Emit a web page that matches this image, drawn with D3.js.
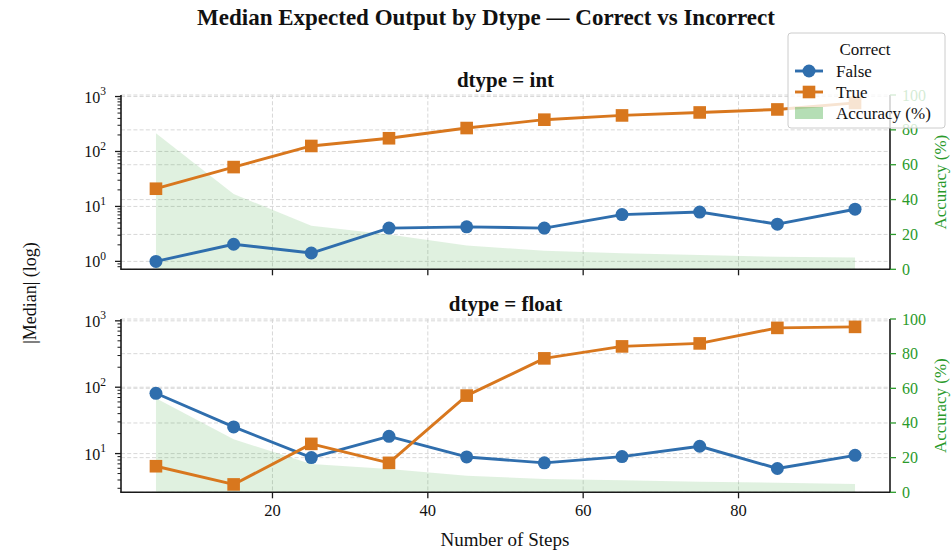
<!DOCTYPE html>
<html><head><meta charset="utf-8">
<script src="https://cdn.jsdelivr.net/npm/d3@7"></script>
<style>body{margin:0;background:#fff} text{font-family:"Liberation Serif","Times New Roman",serif}</style>
</head><body><svg id="c" width="952" height="553"></svg>
<script>
const steps = [5,15,25,35,45,55,65,75,85,95];
const intFalse = [1.0,2.05,1.42,4.03,4.25,4.03,7.1,7.9,4.75,8.9];
const intTrue = [21,52,126,174,267,379,453,513,582,765];
const intAcc = [78,43.2,25,20,13.6,10.7,9.2,8.2,7.2,6.7];
const floatFalse = [81,25.2,8.7,18.2,8.9,7.25,9.0,12.9,5.96,9.4];
const floatTrue = [6.45,3.43,14.0,7.25,74.8,272,412,457,783,811];
const floatAcc = [54.2,30.6,16.3,13.4,9.6,7.7,6.9,6.1,5.5,4.8];
const xTicks = [20,40,60,80];
const accTicks = [0,20,40,60,80,100];
const panels = [
  {title:"dtype = int", f:intFalse, t:intTrue, acc:intAcc, top:95, bottom:269.3, labels:false},
  {title:"dtype = float", f:floatFalse, t:floatTrue, acc:floatAcc, top:319, bottom:492.3, labels:true}
];
const BLUE="#2f6ead", ORANGE="#d8771e", GREEN="#2a9a2a", FILL="rgba(44,160,44,0.15)";
const L=121, R=890;
const svg=d3.select("#c");
const x=d3.scaleLinear().domain([0.5,99.5]).range([L,R]);

svg.append("text").attr("x",486).attr("y",25).attr("text-anchor","middle")
  .attr("font-size",23).attr("font-weight","bold").attr("fill","#111")
  .text("Median Expected Output by Dtype — Correct vs Incorrect");

panels.forEach(p=>{
  const vals=p.f.concat(p.t).map(Math.log10);
  const lo=d3.min(vals), hi=d3.max(vals), m=0.05*(hi-lo);
  const y=d3.scaleLog().domain([Math.pow(10,lo-m),Math.pow(10,hi+m)]).range([p.bottom,p.top]);
  const ya=d3.scaleLinear().domain([0,100]).range([p.bottom,p.top]);
  const g=svg.append("g");
  const grid=g.append("g").attr("stroke","#d4d4d4").attr("stroke-width",0.9).attr("stroke-dasharray","4,2.2");
  const allT=y.ticks();
  const majors=allT.filter(v=>Math.abs(Math.log10(v)-Math.round(Math.log10(v)))<1e-9);
  const minors=allT.filter(v=>!majors.includes(v));
  majors.forEach(v=>grid.append("line").attr("x1",L).attr("x2",R).attr("y1",y(v)).attr("y2",y(v)));
  accTicks.forEach(v=>grid.append("line").attr("x1",L).attr("x2",R).attr("y1",ya(v)).attr("y2",ya(v)));
  xTicks.forEach(v=>grid.append("line").attr("x1",x(v)).attr("x2",x(v)).attr("y1",p.top).attr("y2",p.bottom));
  g.append("path").datum(steps.map((s,i)=>[s,p.acc[i]]))
    .attr("fill",FILL).attr("stroke","none")
    .attr("d",d3.area().x(d=>x(d[0])).y0(ya(0)).y1(d=>ya(d[1])));
  [[p.f,BLUE,"circle"],[p.t,ORANGE,"square"]].forEach(([arr,col,shape])=>{
    const pts=steps.map((s,i)=>[s,arr[i]]);
    g.append("path").datum(pts).attr("fill","none").attr("stroke",col).attr("stroke-width",2.9)
      .attr("stroke-linejoin","round").attr("d",d3.line().x(d=>x(d[0])).y(d=>y(d[1])));
    pts.forEach(d=>{
      if(shape==="circle") g.append("circle").attr("cx",x(d[0])).attr("cy",y(d[1])).attr("r",6.5).attr("fill",col);
      else g.append("rect").attr("x",x(d[0])-6.3).attr("y",y(d[1])-6.3).attr("width",12.6).attr("height",12.6).attr("fill",col);
    });
  });
  const ax=g.append("g").attr("stroke","#1a1a1a");
  ax.append("line").attr("x1",L).attr("x2",L).attr("y1",p.top).attr("y2",p.bottom).attr("stroke-width",1.6);
  ax.append("line").attr("x1",L-0.8).attr("x2",R+0.8).attr("y1",p.bottom).attr("y2",p.bottom).attr("stroke-width",1.6);
  ax.append("line").attr("x1",R).attr("x2",R).attr("y1",p.top).attr("y2",p.bottom).attr("stroke-width",1.6);
  majors.forEach(v=>{
    ax.append("line").attr("x1",L-6).attr("x2",L).attr("y1",y(v)).attr("y2",y(v)).attr("stroke-width",1.3);
    const t=g.append("text").attr("x",106).attr("y",y(v)+6).attr("text-anchor","end").attr("font-size",16).attr("fill","#111");
    t.append("tspan").text("10");
    t.append("tspan").attr("dy",-7.5).attr("font-size",11.5).text(Math.round(Math.log10(v)));
  });
  minors.forEach(v=>ax.append("line").attr("x1",L-3.5).attr("x2",L).attr("y1",y(v)).attr("y2",y(v)).attr("stroke-width",1));
  xTicks.forEach(v=>{
    ax.append("line").attr("x1",x(v)).attr("x2",x(v)).attr("y1",p.bottom).attr("y2",p.bottom+6).attr("stroke-width",1.3);
    if(p.labels) g.append("text").attr("x",x(v)).attr("y",p.bottom+24).attr("text-anchor","middle").attr("font-size",16.5).attr("fill","#111").text(v);
  });
  accTicks.forEach(v=>{
    g.append("line").attr("x1",R).attr("x2",R+6).attr("y1",ya(v)).attr("y2",ya(v)).attr("stroke",GREEN).attr("stroke-width",1.3);
    g.append("text").attr("x",R+12).attr("y",ya(v)+5.5).attr("font-size",16).attr("fill",GREEN).text(v);
  });
  g.append("text").attr("transform",`translate(946,${(p.top+p.bottom)/2}) rotate(-90)`).attr("text-anchor","middle")
    .attr("font-size",17).attr("fill",GREEN).text("Accuracy (%)");
  g.append("text").attr("x",(L+R)/2).attr("y",p.top-8).attr("text-anchor","middle").attr("font-size",21)
    .attr("font-weight","bold").attr("fill","#111").text(p.title);
});

svg.append("text").attr("transform","translate(36,293) rotate(-90)").attr("text-anchor","middle")
  .attr("font-size",18).attr("fill","#111").text("|Median| (log)");
svg.append("text").attr("x",505).attr("y",546).attr("text-anchor","middle")
  .attr("font-size",19).attr("fill","#111").text("Number of Steps");

const lg=svg.append("g");
lg.append("rect").attr("x",788).attr("y",33).attr("width",157).attr("height",95).attr("rx",3)
  .attr("fill","rgba(255,255,255,0.8)").attr("stroke","#cccccc").attr("stroke-width",1);
lg.append("text").attr("x",865).attr("y",55).attr("text-anchor","middle").attr("font-size",17).attr("fill","#111").text("Correct");
[["False",BLUE,"circle",71],["True",ORANGE,"square",92]].forEach(([lab,col,sh,yy])=>{
  lg.append("line").attr("x1",795).attr("x2",823).attr("y1",yy).attr("y2",yy).attr("stroke",col).attr("stroke-width",2.9);
  if(sh==="circle") lg.append("circle").attr("cx",809).attr("cy",yy).attr("r",6.5).attr("fill",col);
  else lg.append("rect").attr("x",809-6.3).attr("y",yy-6.3).attr("width",12.6).attr("height",12.6).attr("fill",col);
  lg.append("text").attr("x",836).attr("y",yy+6).attr("font-size",17).attr("fill","#111").text(lab);
});
lg.append("rect").attr("x",795).attr("y",107).attr("width",28).attr("height",12).attr("fill","rgba(44,160,44,0.35)");
lg.append("text").attr("x",836).attr("y",119).attr("font-size",17).attr("fill","#111").text("Accuracy (%)");
</script></body></html>
